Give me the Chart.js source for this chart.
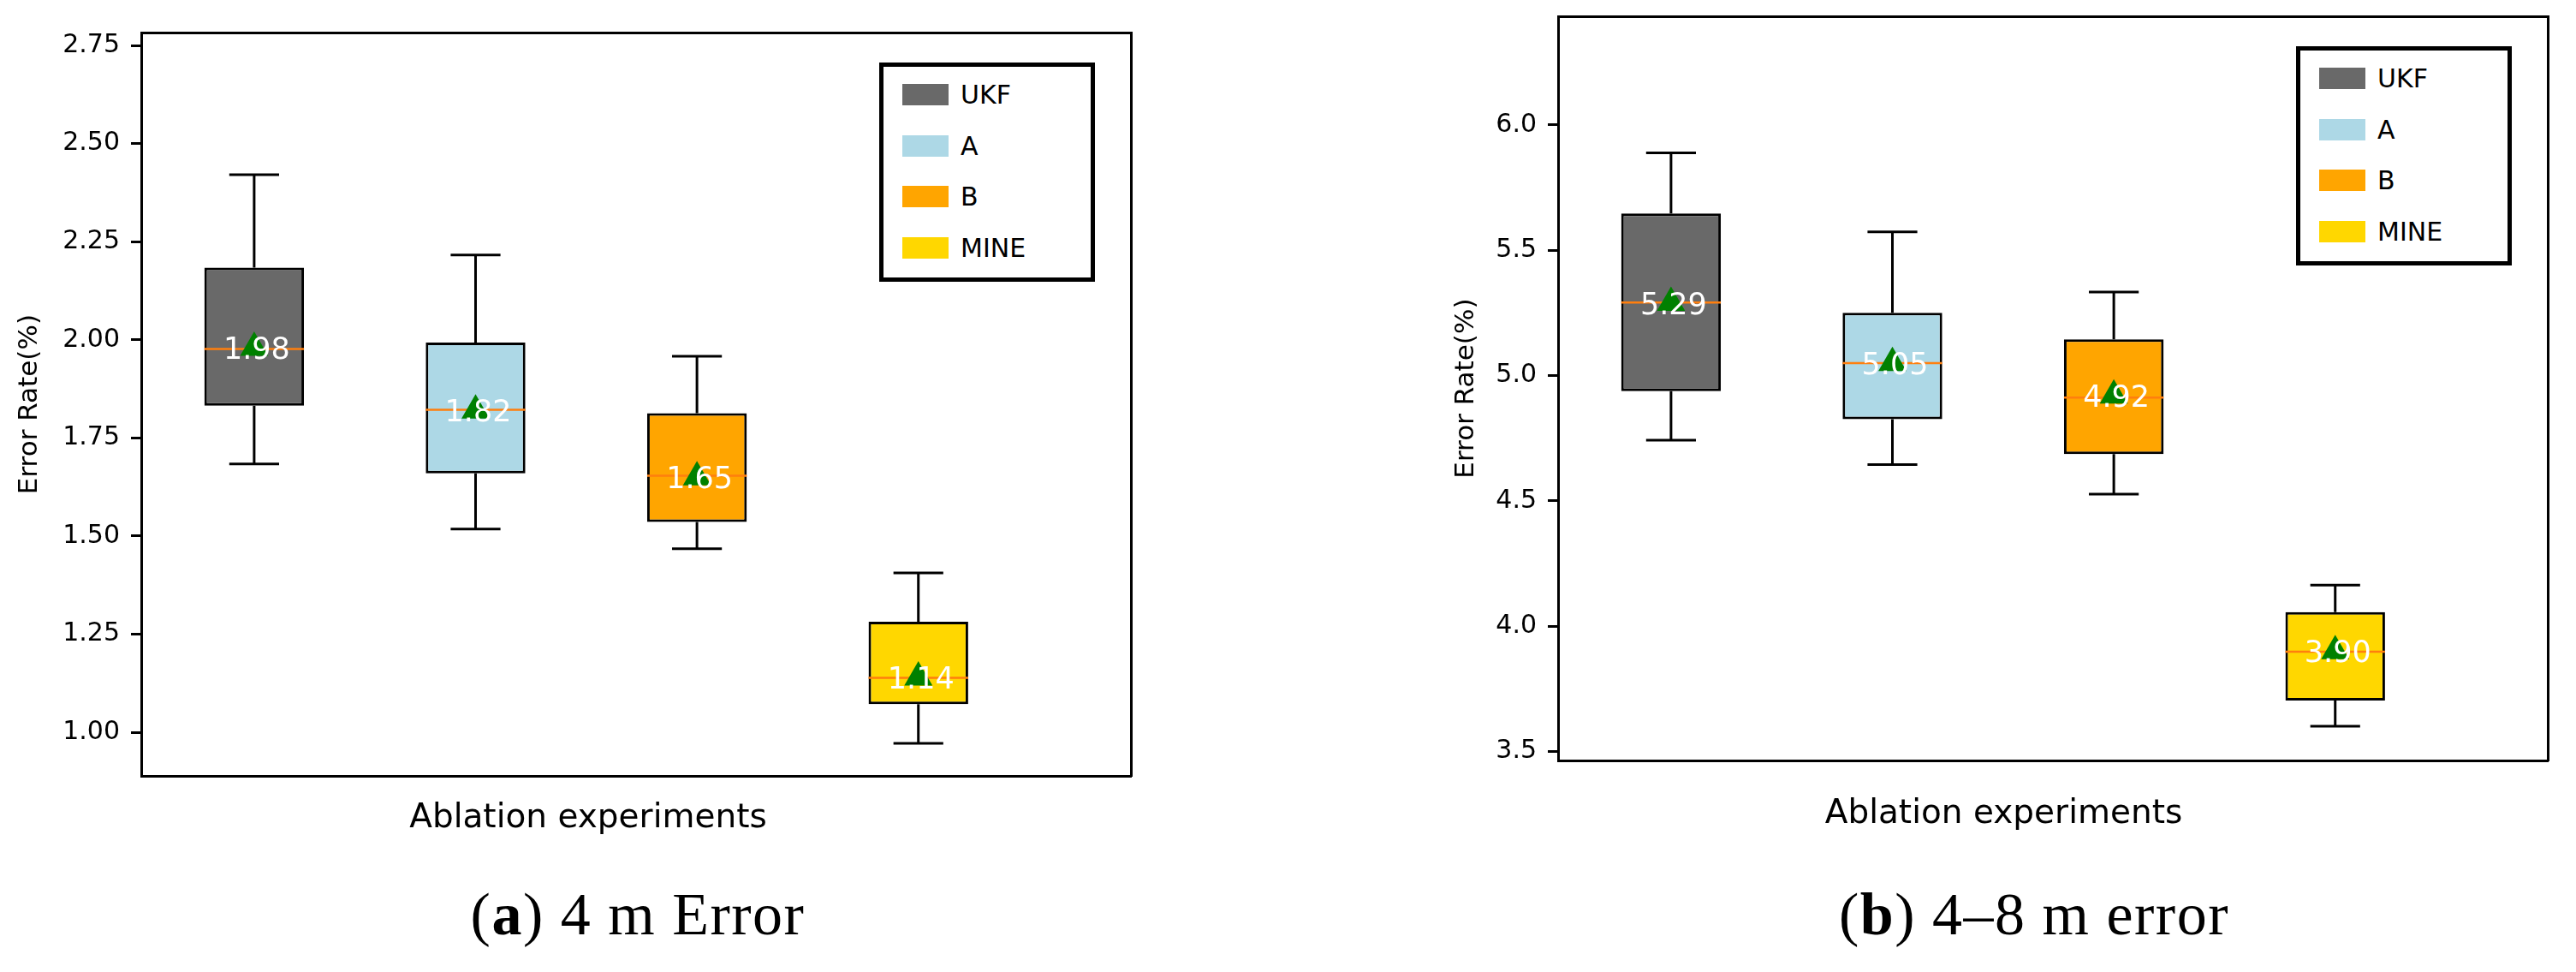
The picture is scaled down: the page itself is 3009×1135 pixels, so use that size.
<!DOCTYPE html>
<html>
<head>
<meta charset="utf-8">
<script src="https://cdn.jsdelivr.net/npm/chart.js@4.4.1/dist/chart.umd.min.js"></script>
<style>
  html, body { margin: 0; padding: 0; background: #fff; }
  body { position: relative; width: 3009px; height: 1135px; overflow: hidden; font-family: 'DejaVu Sans', sans-serif; }
  .panel { position: absolute; top: 0; }
  .panel canvas { display: block; }
  .bx-legend { position: absolute; box-sizing: border-box; width: 252px; height: 256px; border: 5px solid #000; background: #fff; }
  .bx-legend-row { position: absolute; left: 22px; height: 25px; }
  .bx-legend-sw { position: absolute; left: 0; top: 0; width: 54px; height: 25px; }
  .bx-legend-tx { position: absolute; left: 68px; top: 0; font-size: 30px; line-height: 25px; color: #000; white-space: nowrap; }
  .caption { position: absolute; width: 700px; text-align: center; font-family: 'Liberation Serif', serif;
             font-size: 70px; line-height: 70px; letter-spacing: 1.5px; color: #000; }
</style>
</head>
<body>
<div class="panel" style="left:0;width:1340px;height:1000px"><canvas id="chartA" width="1340" height="1000"></canvas></div>
<div class="panel" style="left:1680px;width:1315px;height:1000px"><canvas id="chartB" width="1315" height="1000"></canvas></div>
<div class="bx-legend" id="legendA" style="left:1027px;top:73px"></div>
<div class="bx-legend" id="legendB" style="left:2682px;top:54px"></div>
<div class="caption" style="left:395px;top:1033px">(<b>a</b>) 4 m Error</div>
<div class="caption" style="left:2026px;top:1033px">(<b>b</b>) 4–8 m error</div>

<script>
// ─── Box plots: ablation experiments, error rate per method ──────────────────
const CATEGORIES = ['UKF', 'A', 'B', 'MINE'];
const POSITIONS  = [1, 2, 3, 4];
const COLORS     = ['#696969', '#add8e6', '#ffa500', '#ffd700'];

// (a) 4 m error
const A_LOW    = [1.684, 1.518, 1.468, 0.972];
const A_Q1     = [1.832, 1.660, 1.536, 1.072];
const A_MEDIAN = [1.977, 1.822, 1.654, 1.139];
const A_Q3     = [2.184, 1.993, 1.813, 1.282];
const A_HIGH   = [2.421, 2.216, 1.958, 1.406];
const A_MEAN   = [1.98, 1.82, 1.65, 1.14];
const A_TICKS  = [1.00, 1.25, 1.50, 1.75, 2.00, 2.25, 2.50, 2.75];

// (b) 4–8 m error
const B_LOW    = [4.742, 4.644, 4.526, 3.600];
const B_Q1     = [4.937, 4.825, 4.686, 3.703];
const B_MEDIAN = [5.291, 5.049, 4.912, 3.898];
const B_Q3     = [5.646, 5.250, 5.144, 4.056];
const B_HIGH   = [5.888, 5.573, 5.333, 4.163];
const B_MEAN   = [5.29, 5.05, 4.92, 3.90];
const B_TICKS  = [3.5, 4.0, 4.5, 5.0, 5.5, 6.0];

const BOX_W = 0.45;            // box width, x units
const CAP_W = BOX_W / 2;       // whisker cap width
const X_MIN = 0.49, X_MAX = 4.96;

Chart.defaults.font.family = "'DejaVu Sans', sans-serif";
Chart.defaults.color = '#000';

// white value label on top of each mean marker
const meanLabels = {
  id: 'meanLabels',
  afterDatasetsDraw(chart) {
    const ds = chart.data.datasets[3];
    const meta = chart.getDatasetMeta(3);
    const ctx = chart.ctx;
    ctx.save();
    ctx.font = "35px 'DejaVu Sans'";
    ctx.fillStyle = '#fff';
    ctx.textAlign = 'center';
    ctx.textBaseline = 'middle';
    meta.data.forEach((pt, i) => ctx.fillText(ds.data[i].y.toFixed(2), pt.x + 3, pt.y + 4));
    ctx.restore();
  }
};

function buildBoxChart(canvasId, d, cfg) {
  const whiskers = [], medians = [];
  POSITIONS.forEach((p, i) => {
    whiskers.push(
      { x: p, y: d.q3[i] }, { x: p, y: d.high[i] }, { x: p, y: null },
      { x: p, y: d.q1[i] }, { x: p, y: d.low[i] },  { x: p, y: null },
      { x: p - CAP_W / 2, y: d.high[i] }, { x: p + CAP_W / 2, y: d.high[i] }, { x: p, y: null },
      { x: p - CAP_W / 2, y: d.low[i] },  { x: p + CAP_W / 2, y: d.low[i] },  { x: p, y: null });
    medians.push({ x: p - BOX_W / 2, y: d.median[i] }, { x: p + BOX_W / 2, y: d.median[i] }, { x: p, y: null });
  });

  const hidden = { display: false };
  return new Chart(document.getElementById(canvasId), {
    type: 'bar',
    data: {
      datasets: [
        { type: 'bar', label: 'box', order: 4,
          data: POSITIONS.map((p, i) => ({ x: p, y: [d.q1[i], d.q3[i]] })),
          backgroundColor: COLORS, borderColor: '#000', borderWidth: 3, borderSkipped: false,
          barPercentage: BOX_W, categoryPercentage: 1, grouped: false },
        { type: 'line', label: 'whiskers', order: 3, data: whiskers,
          borderColor: '#000', borderWidth: 3, pointRadius: 0, spanGaps: false, tension: 0 },
        { type: 'line', label: 'median', order: 2, data: medians,
          borderColor: '#ff7f0e', borderWidth: 2.5, pointRadius: 0, spanGaps: false, tension: 0 },
        { type: 'scatter', label: 'mean', order: 1,
          data: POSITIONS.map((p, i) => ({ x: p, y: d.mean[i] })),
          pointStyle: 'triangle', pointRadius: 19, backgroundColor: '#008000', borderWidth: 0 },
      ]
    },
    options: {
      responsive: false, animation: false, devicePixelRatio: 1,
      layout: { padding: cfg.padding },
      plugins: {
        legend: hidden, tooltip: { enabled: false },
        title: { display: true, position: 'bottom', text: 'Ablation experiments',
                 font: { size: 39, weight: 'normal', lineHeight: 1.2 }, color: '#000',
                 padding: { top: cfg.xTitleGap, bottom: 0 } },
      },
      scales: {
        x: { type: 'linear', min: X_MIN, max: X_MAX, offset: false,
             afterBuildTicks: s => { s.ticks = POSITIONS.map(v => ({ value: v })); },
             ticks: hidden, grid: { display: false, offset: false },
             border: { display: true, color: '#000', width: 3 },
             afterFit: s => { s.height = 0; } },
        y: { type: 'linear', min: cfg.yMin, max: cfg.yMax,
             afterBuildTicks: s => { s.ticks = cfg.ticks.map(v => ({ value: v })); },
             ticks: { callback: v => v.toFixed(cfg.dec), font: { size: 30 }, padding: 13, color: '#000' },
             grid: { display: true, drawOnChartArea: false, drawTicks: true, tickLength: 12, tickWidth: 3, tickColor: '#000' },
             border: { display: true, color: '#000', width: 3 },
             title: { display: true, text: 'Error Rate(%)', font: { size: 31, lineHeight: 1.2 }, color: '#000',
                      padding: { top: cfg.yTitleShift, bottom: 0 } },
             afterFit: s => { s.width = cfg.yWidth; s.paddingTop = 0; s.paddingBottom = 0; } },
        xTop: { type: 'linear', position: 'top', ticks: hidden, grid: { display: false },
                border: { display: true, color: '#000', width: 3 }, afterFit: s => { s.height = 0; } },
        yRight: { type: 'linear', position: 'right', ticks: hidden, grid: { display: false },
                  border: { display: true, color: '#000', width: 3 }, afterFit: s => { s.width = 0; } },
      }
    },
    plugins: [meanLabels]
  });
}

function buildLegend(elId) {
  const el = document.getElementById(elId);
  const ROW_TOP = [20, 79.7, 139.4, 199.1];
  el.innerHTML = CATEGORIES.map((c, i) => `
    <div class="bx-legend-row" style="top:${ROW_TOP[i]}px">
      <div class="bx-legend-sw" style="background:${COLORS[i]}"></div>
      <div class="bx-legend-tx">${c}</div>
    </div>`).join('');
}

buildBoxChart('chartA',
  { low: A_LOW, q1: A_Q1, median: A_MEDIAN, q3: A_Q3, high: A_HIGH, mean: A_MEAN },
  { yMin: 0.8886, yMax: 2.783, ticks: A_TICKS, dec: 2, yWidth: 123, yTitleShift: -26, xTitleGap: 26,
    padding: { left: 42, right: 8, top: 38, bottom: 21 } });

buildBoxChart('chartB',
  { low: B_LOW, q1: B_Q1, median: B_MEDIAN, q3: B_Q3, high: B_HIGH, mean: B_MEAN },
  { yMin: 3.463, yMax: 6.433, ticks: B_TICKS, dec: 1, yWidth: 126, yTitleShift: 0, xTitleGap: 39,
    padding: { left: 14, right: 8, top: 19, bottom: 26 } });

buildLegend('legendA');
buildLegend('legendB');
</script>
</body>
</html>
